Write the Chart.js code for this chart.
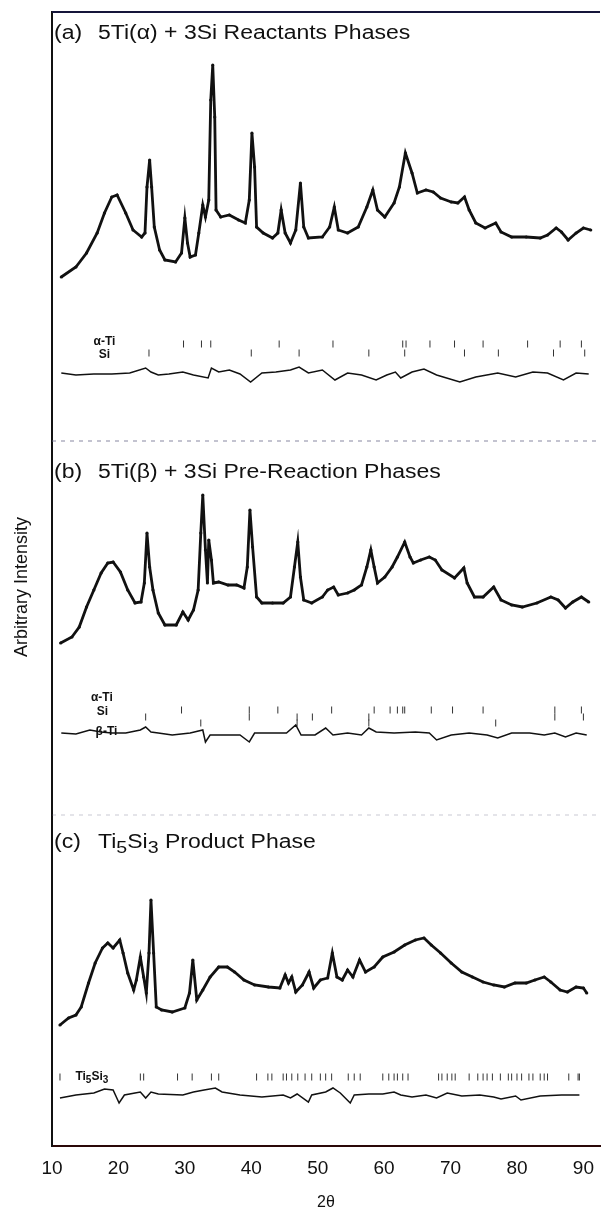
<!DOCTYPE html>
<html lang="en">
<head>
  <meta charset="UTF-8">
  <title>XRD patterns - 5Ti + 3Si</title>
  <script src="https://cdn.jsdelivr.net/npm/chart.js"></script>
  <style>
    * { margin: 0; padding: 0; box-sizing: border-box; }
    body { background: #fff; width: 605px; height: 1214px; overflow: hidden; }
    #xrd { display: block; }
  </style>
</head>
<body>
  <canvas id="xrd" width="605" height="1214"></canvas>

  <script>
    // --- Data (2θ in degrees, intensity in arbitrary units) ---

    // (a) 5Ti(α) + 3Si reactants
    const thetaA = [11.4,13.6,15.2,16.8,17.9,19.0,19.8,21.1,22.2,23.5,24.0,24.3,24.7,25.0,25.4,26.2,27.0,28.6,29.5,30.0,30.4,30.8,31.6,32.1,32.7,33.1,33.6,33.9,34.2,34.5,34.7,35.4,36.7,38.1,39.1,39.7,40.1,40.5,40.8,41.8,43.2,44.0,44.5,45.1,45.9,46.7,47.4,47.9,48.6,50.7,51.8,52.5,53.1,54.5,56.1,57.4,58.3,59.0,60.1,61.5,62.3,63.2,64.2,65.0,66.3,67.4,68.5,70.1,71.1,72.1,72.8,73.8,75.2,76.8,77.6,79.2,81.4,83.5,84.6,85.9,86.7,87.7,88.9,90.0,91.1];
    const obsA = [23,33,47,67,87,103,105,87,70,63,67,113,140,113,73,50,40,38,47,82,57,43,45,67,95,83,100,200,235,183,90,83,85,80,77,100,167,133,73,67,62,67,90,67,57,70,117,73,62,63,73,93,70,67,73,93,110,90,83,97,113,147,127,107,110,108,102,98,97,103,90,77,72,77,68,63,63,62,65,72,68,60,67,72,70];
    const diffThetaA = [11.4,13.6,16.3,19.0,21.7,24.1,24.9,26.0,27.6,29.7,31.3,33.5,34.0,35.1,36.7,38.3,39.9,41.6,43.7,45.9,47.2,48.6,50.7,52.6,54.5,56.6,58.8,60.4,61.7,62.5,64.2,66.0,67.9,71.4,73.8,77.1,79.8,82.4,84.6,87.0,88.9,90.8];
    const diffA = [1,-1,0,0,1,6,2,-1,0,2,-1,-4,6,2,4,0,-8,1,2,4,7,1,4,-6,1,-1,-6,-1,2,-4,2,5,-1,-8,-3,1,-3,2,1,-6,1,0];
    const alphaTiA = [29.8,32.5,33.9,44.2,52.3,62.8,63.3,66.9,70.6,74.9,81.6,86.5,89.7];
    const siA = [24.6,40.0,47.2,57.7,63.1,72.1,77.2,85.5,90.2];

    // (b) 5Ti(β) + 3Si pre-reaction
    const thetaB = [11.3,13.0,14.1,15.2,16.3,17.4,18.4,19.2,20.3,21.4,22.5,23.4,23.9,24.3,24.7,25.2,26.0,27.0,28.7,29.7,30.5,31.3,32.0,32.4,32.7,33.1,33.4,33.6,34.0,34.3,35.1,36.5,37.8,38.9,39.4,39.8,40.2,40.8,41.6,43.2,44.8,45.9,46.5,47.0,47.4,47.9,49.1,50.7,51.5,52.4,53.1,54.5,55.5,56.6,57.4,58.0,58.5,59.0,60.1,61.2,62.0,63.1,63.9,64.4,65.5,66.8,67.7,68.7,70.6,72.0,72.5,73.6,74.9,76.5,77.6,79.2,80.8,83.0,85.1,86.2,87.3,88.4,89.7,90.8];
    const obsB = [7,13,23,43,60,77,87,88,78,60,47,48,67,117,83,60,37,25,25,38,30,40,60,117,155,100,67,110,90,67,68,65,65,62,83,140,103,53,47,47,47,53,83,108,73,50,47,53,60,63,55,57,60,65,83,100,83,67,73,83,93,108,93,87,90,93,90,80,72,82,67,53,53,63,50,45,43,47,53,50,42,48,53,48];
    const diffThetaB = [11.4,13.6,15.7,17.4,19.0,21.1,23.3,24.1,24.9,26.0,28.1,30.8,32.7,33.1,33.8,36.2,38.3,39.7,40.5,42.6,45.3,46.7,47.5,49.6,51.2,52.3,54.5,56.6,57.7,58.8,61.5,64.7,66.8,67.9,70.1,72.8,75.5,77.1,79.2,81.9,84.1,85.7,87.3,88.9,90.5];
    const diffB = [0,-1,3,1,0,0,3,6,1,0,-2,0,3,-9,-2,-2,-2,-9,0,0,0,8,-2,-2,5,-2,0,-2,5,1,0,1,0,-7,-2,0,-2,-5,0,0,-2,0,-4,0,-2];
    const alphaTiB = [29.5,39.7,44.0,52.1,58.5,60.9,62.0,62.8,63.1,67.1,70.3,74.9,85.7,89.7];
    const siB = [24.1,39.7,46.9,49.2,57.7,85.7,90.0];
    const betaTiB = [32.4,46.9,57.7,76.8];

    // (c) Ti5Si3 product
    const thetaC = [11.2,12.5,13.6,14.4,15.5,16.5,17.6,18.4,19.2,20.2,20.7,21.4,22.3,22.7,23.3,23.8,24.2,24.6,24.9,25.3,25.7,26.5,28.1,30.0,30.7,31.2,31.8,32.7,33.8,35.1,36.4,37.5,38.9,40.5,42.6,44.3,45.1,45.6,46.1,46.7,47.7,48.7,49.4,50.4,51.5,52.2,52.9,53.7,54.5,55.3,56.3,57.2,58.5,59.8,61.5,63.1,64.7,66.0,67.1,68.5,70.1,71.7,73.3,74.9,76.5,78.1,79.7,81.4,82.7,84.1,85.1,86.5,87.6,88.9,90.0,90.5];
    const obsC = [5,12,15,23,47,67,82,87,82,90,77,57,40,50,73,53,37,77,130,77,23,20,18,22,37,70,30,40,53,63,63,58,50,45,43,42,55,47,53,38,45,58,42,50,52,77,53,50,60,53,70,58,63,73,78,85,90,92,85,77,67,58,53,48,45,43,47,47,50,53,48,40,38,43,42,37];
    const diffThetaC = [11.2,13.6,16.3,17.9,19.2,20.1,20.9,22.5,23.3,24.1,24.9,26.0,29.7,31.3,32.9,34.6,35.6,38.3,41.6,44.8,45.9,46.9,48.6,49.1,51.2,52.3,53.4,54.9,55.5,57.7,59.8,61.5,62.5,64.2,66.3,67.9,69.5,71.7,74.4,76.5,77.6,79.8,80.6,83.5,86.7,89.4];
    const diffC = [-3,0,2,6,5,-8,0,2,3,-3,3,1,0,3,5,7,3,0,-2,0,-3,1,-7,0,3,7,2,-8,0,1,1,3,0,-2,0,-3,2,-1,0,-2,-4,-1,-5,-1,0,0];
    const ti5si3C = [11.2,23.3,23.8,28.9,31.1,34.0,35.1,40.8,42.5,43.1,44.8,45.3,46.1,47.0,48.1,49.1,50.4,51.2,52.1,54.6,55.5,56.4,59.8,60.7,61.5,62.0,62.8,63.6,68.2,68.7,69.5,70.2,70.7,72.8,74.1,74.9,75.5,76.3,77.5,78.7,79.2,80.0,80.7,81.8,82.4,83.5,84.1,84.6,87.8,89.2,89.4];

    // x axis tick labels
    const xTicks = [10, 20, 30, 40, 50, 60, 70, 80, 90];

    // --- Vertical stacking of the three panels (arbitrary intensity units) ---
    const OFFSET = {
      obsA: 846, diffA: 772, alphaA: 802, siA: 793,
      obsB: 496, diffB: 413, alphaB: 436, siB: 429, betaB: 423,
      obsC: 116, diffC: 51, ti5si3C: 69,
      sep1: 705, sep2: 331
    };

    // Helpers to turn arrays into {x, y} points
    const series = (xs, ys, off) => xs.map((x, i) => ({ x: x, y: ys[i] + off }));
    const row = (xs, off) => xs.map(x => ({ x: x, y: off }));
    const flat = off => [{ x: 10, y: off }, { x: 92.5, y: off }];

    const INK = '#111';
    const FONT = '"Liberation Sans", Arial, sans-serif';

    function obsSet(data) {
      return {
        data: data, showLine: true, borderColor: INK, borderWidth: 2.8,
        pointRadius: 1.6, pointBackgroundColor: INK, pointBorderWidth: 0, tension: 0
      };
    }
    function diffSet(data) {
      return { data: data, showLine: true, borderColor: INK, borderWidth: 1.5, pointRadius: 0, tension: 0 };
    }
    function tickSet(data) {
      return {
        data: data, showLine: false, pointStyle: 'line', rotation: 90,
        pointRadius: 3.5, borderColor: '#333', borderWidth: 1
      };
    }
    function sepSet(data, alpha) {
      return {
        data: data, showLine: true, borderColor: 'rgba(110,110,140,' + alpha + ')',
        borderWidth: 1.5, borderDash: [4, 5], pointRadius: 0
      };
    }

    // --- Texts drawn on top: panel titles, phase labels, frame top, y title ---
    // "_3" marks a subscript digit
    const panelTitles = [
      { tag: '(a)', text: '5Ti(α) + 3Si Reactants Phases', level: 1113 },
      { tag: '(b)', text: '5Ti(β) + 3Si Pre-Reaction Phases', level: 674 },
      { tag: '(c)', text: 'Ti_5Si_3 Product Phase', level: 304 }
    ];
    const phaseLabels = [
      { text: 'α-Ti', x: 17.9, level: 804 },
      { text: 'Si', x: 17.9, level: 791 },
      { text: 'α-Ti', x: 17.5, level: 448 },
      { text: 'Si', x: 17.6, level: 434 },
      { text: 'β-Ti', x: 18.2, level: 414 },
      { text: 'Ti_5Si_3', x: 16.0, level: 69 }
    ];

    // Draw text with lowered subscript digits; align 'left' or 'center'
    function richText(ctx, text, x, y, size, weight, stretch, align) {
      const runs = text.split(/(_\d)/).filter(s => s.length);
      const fontFor = sub => weight + ' ' + (sub ? Math.round(size * 0.85) : size) + 'px ' + FONT;
      let total = 0;
      runs.forEach(r => {
        const sub = r[0] === '_';
        ctx.font = fontFor(sub);
        total += ctx.measureText(sub ? r.slice(1) : r).width;
      });
      ctx.save();
      ctx.translate(x, y);
      ctx.scale(stretch, 1);
      ctx.textAlign = 'left';
      let cx = align === 'center' ? -total / 2 : 0;
      runs.forEach(r => {
        const sub = r[0] === '_';
        const t = sub ? r.slice(1) : r;
        ctx.font = fontFor(sub);
        ctx.fillText(t, cx, sub ? size * 0.3 : 0);
        cx += ctx.measureText(t).width;
      });
      ctx.restore();
    }

    const textPlugin = {
      id: 'xrdText',
      afterDatasetsDraw(chart) {
        const { ctx, chartArea: area, scales: { x, y } } = chart;
        ctx.save();

        // top edge of the frame
        ctx.strokeStyle = '#15153a';
        ctx.lineWidth = 2;
        ctx.beginPath();
        ctx.moveTo(area.left, area.top);
        ctx.lineTo(area.right, area.top);
        ctx.stroke();

        ctx.fillStyle = INK;
        ctx.textBaseline = 'middle';
        panelTitles.forEach(p => {
          const py = y.getPixelForValue(p.level);
          richText(ctx, p.tag, area.left + 2, py, 20, 'normal', 1.15, 'left');
          richText(ctx, p.text, area.left + 46, py, 20, 'normal', 1.15, 'left');
        });

        phaseLabels.forEach(l => {
          richText(ctx, l.text, x.getPixelForValue(l.x), y.getPixelForValue(l.level), 12, 'bold', 1, 'center');
        });

        // y axis title
        ctx.font = '18px ' + FONT;
        ctx.textAlign = 'center';
        ctx.translate(22, 587);
        ctx.rotate(-Math.PI / 2);
        ctx.fillText('Arbitrary Intensity', 0, 0);
        ctx.restore();
      }
    };

    // --- Build the chart ---
    const ctx = document.getElementById('xrd').getContext('2d');
    new Chart(ctx, {
      type: 'scatter',
      data: {
        datasets: [
          sepSet(flat(OFFSET.sep1), 0.55),
          sepSet(flat(OFFSET.sep2), 0.25),
          obsSet(series(thetaA, obsA, OFFSET.obsA)),
          diffSet(series(diffThetaA, diffA, OFFSET.diffA)),
          tickSet(row(alphaTiA, OFFSET.alphaA)),
          tickSet(row(siA, OFFSET.siA)),
          obsSet(series(thetaB, obsB, OFFSET.obsB)),
          diffSet(series(diffThetaB, diffB, OFFSET.diffB)),
          tickSet(row(alphaTiB, OFFSET.alphaB)),
          tickSet(row(siB, OFFSET.siB)),
          tickSet(row(betaTiB, OFFSET.betaB)),
          obsSet(series(thetaC, obsC, OFFSET.obsC)),
          diffSet(series(diffThetaC, diffC, OFFSET.diffC)),
          tickSet(row(ti5si3C, OFFSET.ti5si3C))
        ]
      },
      options: {
        responsive: false,
        animation: false,
        layout: { padding: { top: 12, right: 0, left: 0, bottom: 0 } },
        plugins: { legend: { display: false }, tooltip: { enabled: false } },
        scales: {
          x: {
            type: 'linear',
            min: 10,
            max: 92.5,
            grid: { display: false },
            border: { display: true, color: '#2a0808', width: 2 },
            afterBuildTicks: s => { s.ticks = xTicks.map(v => ({ value: v })); },
            afterFit: s => { s.height = 68; },
            ticks: {
              color: INK,
              padding: 3,
              maxRotation: 0,
              font: { family: FONT, size: 19 }
            },
            title: {
              display: true,
              text: '2θ',
              color: INK,
              padding: { top: 0, bottom: 2 },
              font: { family: FONT, size: 16 }
            }
          },
          y: {
            min: 0,
            max: 1134,
            grid: { display: false },
            border: { display: true, color: INK, width: 2 },
            ticks: { display: false },
            afterFit: s => { s.width = 52; }
          }
        }
      },
      plugins: [textPlugin]
    });
  </script>
</body>
</html>
